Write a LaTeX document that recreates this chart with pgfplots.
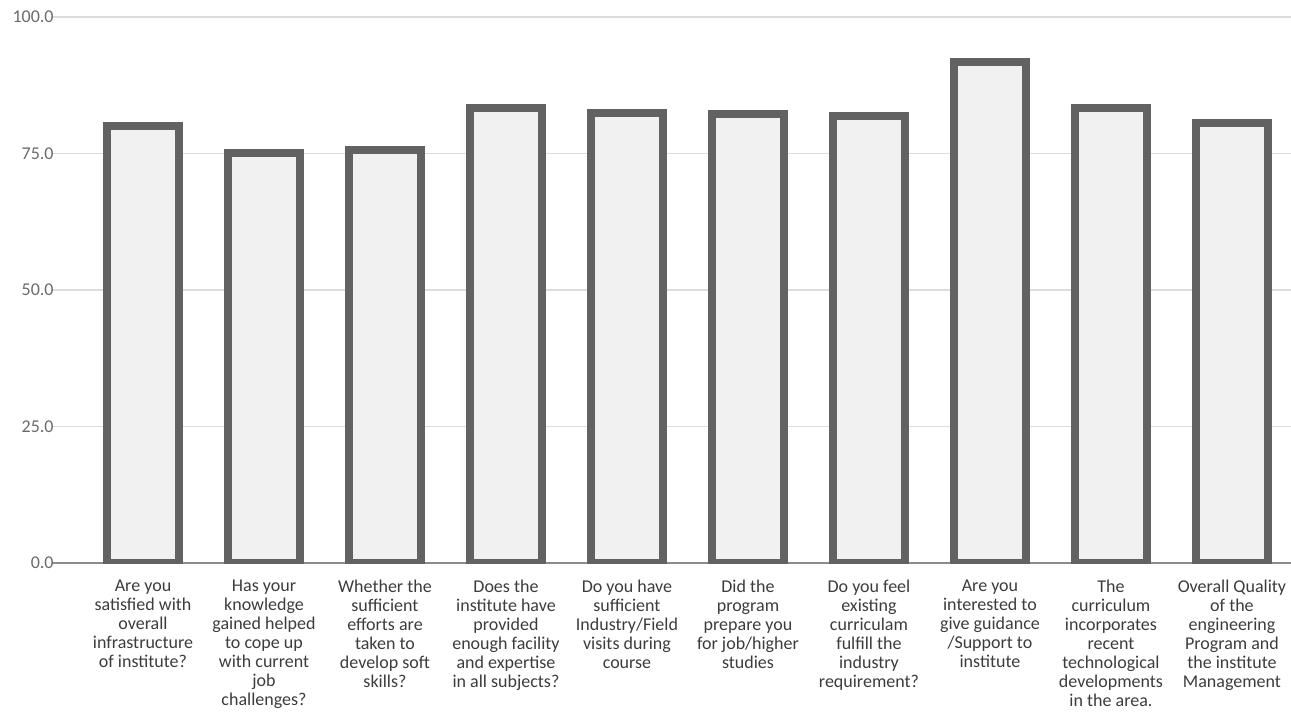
\documentclass[border=0pt]{standalone}
\usepackage{fontspec}
\setmainfont{Carlito}
\usepackage{pgfplots}
\pgfplotsset{compat=1.18}

\definecolor{barline}{HTML}{626262}
\definecolor{barfill}{HTML}{F1F1F1}
\definecolor{gridc}{HTML}{DCDCDC}
\definecolor{labc}{HTML}{3C3C3C}
\definecolor{tickc}{HTML}{6A6A6A}

\begin{document}
\begin{tikzpicture}
\begin{axis}[
    at={(0,0)}, anchor=south west,
    scale only axis,
    width=619.5pt, height=273pt,
    xmin=-0.752, xmax=9.488,
    ymin=0, ymax=100,
    axis x line*=bottom,
    axis y line*=left,
    y axis line style={draw=none},
    x axis line style={draw=black!45, line width=1pt, -},
    major tick length=0pt,
    ytick={0,25,50,75,100},
    yticklabels={0.0,25.0,50.0,75.0,100.0},
    ymajorgrids,
    grid style={gridc, line width=0.8pt},
    xtick={0,...,9},
    xticklabels={
        {Are you\\satisfied with\\overall\\infrastructure\\of institute?},
        {Has your\\knowledge\\gained helped\\to cope up\\with current\\job\\challenges?},
        {Whether the\\sufficient\\efforts are\\taken to\\develop soft\\skills?},
        {Does the\\institute have\\provided\\enough facility\\and expertise\\in all subjects?},
        {Do you have\\sufficient\\Industry/Field\\visits during\\course},
        {Did the\\program\\prepare you\\for job/higher\\studies},
        {Do you feel\\existing\\curriculam\\fulfill the\\industry\\requirement?},
        {Are you\\interested to\\give guidance\\/Support to\\institute},
        {The\\curriculum\\incorporates\\recent\\technological\\developments\\in the area.},
        {Overall Quality\\of the\\engineering\\Program and\\the institute\\Management}
    },
    x tick label style={align=center, font=\fontsize{9}{9.5}\selectfont,
        text=labc, anchor=north, inner sep=0pt, yshift=-8.5pt},
    y tick label style={font=\fontsize{9}{9}\selectfont, text=tickc,
        anchor=east, inner sep=0pt, xshift=1pt},
    ybar,
    bar width=36pt,
]

% survey scores, one bar per question
\addplot[draw=barline, fill=barfill, line width=4pt]
coordinates {
    (0,80.0)
    (1,75.1)
    (2,75.6)
    (3,83.3)
    (4,82.4)
    (5,82.2)
    (6,81.9)
    (7,91.7)
    (8,83.4)
    (9,80.6)
};

\end{axis}
\pgfresetboundingbox
\path[use as bounding box] (-26pt,-78pt) rectangle (619.5pt,281.5pt);
\end{tikzpicture}
\end{document}
